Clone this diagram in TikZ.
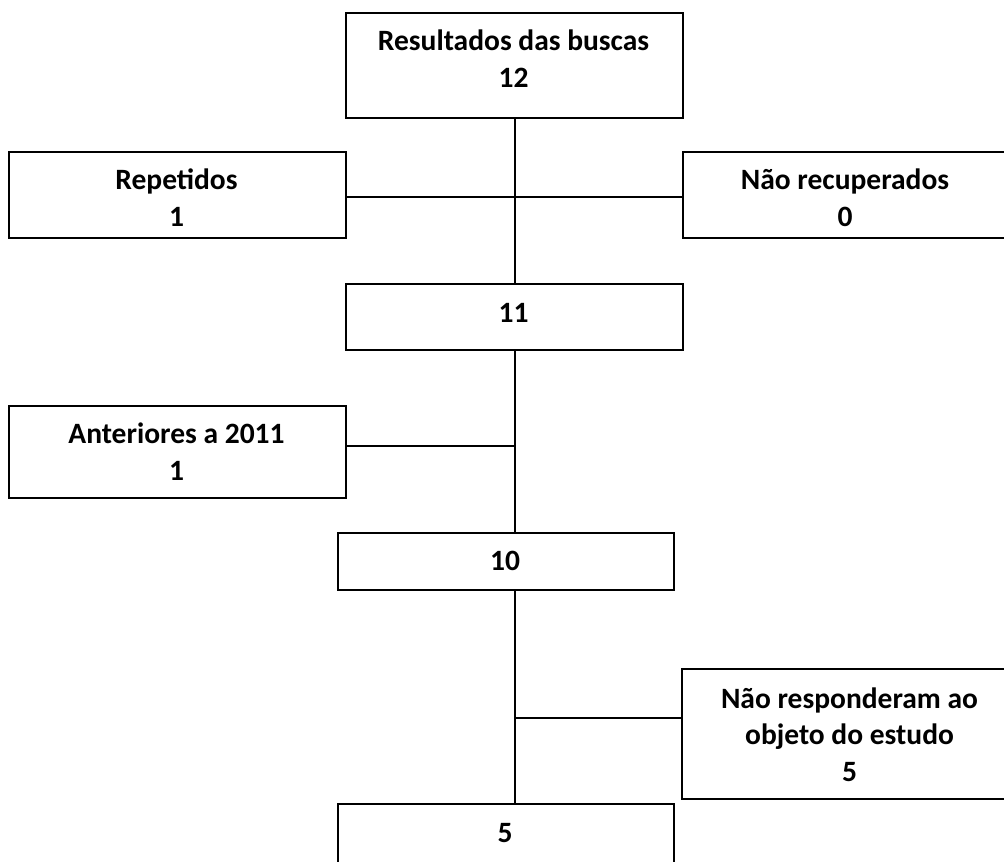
\documentclass[tikz,border=0pt]{standalone}
\usepackage{fontspec}
\setmainfont{Carlito}
\begin{document}
\begin{tikzpicture}[x=1pt,y=-1pt,
  box/.style={draw=black,line width=2pt,rectangle,inner sep=0pt,anchor=north west},
  txt/.style={font=\fontsize{29.5}{36.5}\selectfont\bfseries,align=center,anchor=base,inner sep=0pt},
  conn/.style={draw=black,line width=2pt}]
\useasboundingbox (0,0) rectangle (1004,862);
\clip (0,0) rectangle (1004,862);
% boxes
\node[box,minimum width=337pt,minimum height=105pt] (b1) at (345,12) {};
\node[box,minimum width=337pt,minimum height=86pt] (rep) at (8,151) {};
\node[box,minimum width=326pt,minimum height=86pt] (nrec) at (682,151) {};
\node[box,minimum width=337pt,minimum height=66pt] (b11) at (345,283) {};
\node[box,minimum width=337pt,minimum height=92pt] (ant) at (8,405) {};
\node[box,minimum width=336pt,minimum height=57pt] (b10) at (337,532) {};
\node[box,minimum width=337pt,minimum height=130pt] (nresp) at (681,668) {};
\node[box,minimum width=336pt,minimum height=80pt] (b5) at (337,803) {};
% texts (anchor = baseline of last line)
\node[txt] (t1) at (513.5,87) {Resultados das buscas\\12};
\node[txt] (t2) at (176.5,226) {Repetidos\\1};
\node[txt] (t3) at (845,226) {Não recuperados\\0};
\node[txt] (t4) at (513.5,322) {11};
\node[txt] (t5) at (176.5,480) {Anteriores a 2011\\1};
\node[txt] (t6) at (505,570.5) {10};
\node[txt] (t7) at (849.5,781) {Não responderam ao\\objeto do estudo\\5};
\node[txt] (t8) at (505,842) {5};
% connectors
\coordinate (v) at (515,0);
\coordinate (h1) at (0,197);
\coordinate (h2) at (0,446);
\coordinate (h3) at (0,718);
\draw[conn] (b1.south -| v) -- (b11.north -| v);
\draw[conn] (rep.east |- h1) -- (nrec.west |- h1);
\draw[conn] (b11.south -| v) -- (b10.north -| v);
\draw[conn] (ant.east |- h2) -- (v |- h2);
\draw[conn] (b10.south -| v) -- (b5.north -| v);
\draw[conn] (v |- h3) -- (nresp.west |- h3);
\end{tikzpicture}
\end{document}
